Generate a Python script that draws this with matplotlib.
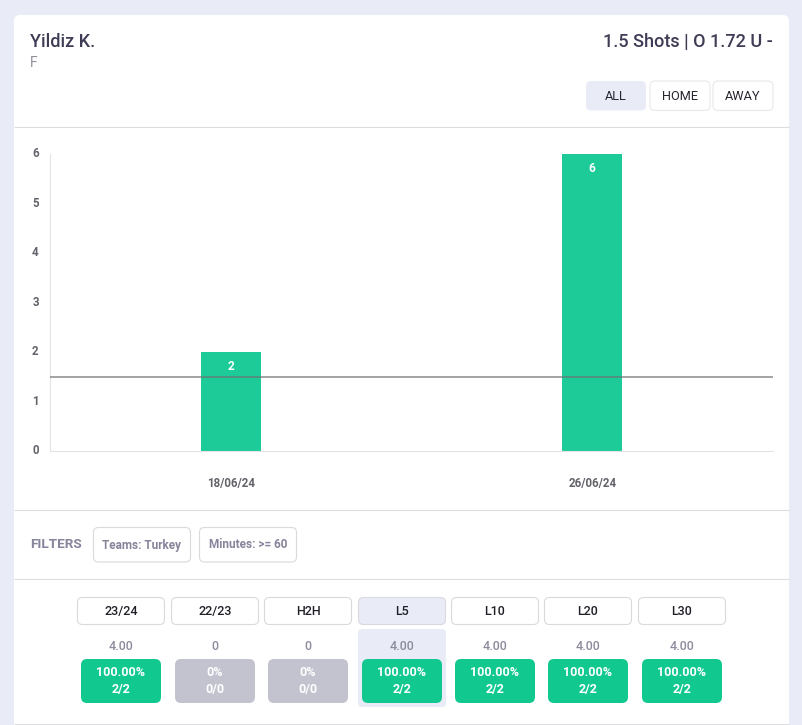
import matplotlib
matplotlib.use("Agg")
import matplotlib.pyplot as plt
from matplotlib.patches import FancyBboxPatch
from matplotlib.transforms import ScaledTranslation

plt.rcParams['font.family'] = ['Roboto', 'DejaVu Sans']

# ---- data ----
dates = ['18/06/24', '26/06/24']
shots = [2, 6]
threshold = 1.5
y_ticks = [0, 1, 2, 3, 4, 5, 6]
player = 'Yildiz K.'
position = 'F'
market = '1.5 Shots | O 1.72 U -'
venue_buttons = ['ALL', 'HOME', 'AWAY']
filters = ['Teams: Turkey', 'Minutes: >= 60']
periods = ['23/24', '22/23', 'H2H', 'L5', 'L10', 'L20', 'L30']
averages = ['4.00', '0', '0', '4.00', '4.00', '4.00', '4.00']
hit_pct = ['100.00%', '0%', '0%', '100.00%', '100.00%', '100.00%', '100.00%']
hit_frac = ['2/2', '0/0', '0/0', '2/2', '2/2', '2/2', '2/2']

W, H = 803, 725
GREEN = '#11c88f'
fig = plt.figure(figsize=(W / 100, H / 100), dpi=100, facecolor='#e9ecf6')

# page chrome in pixel coordinates
ui = fig.add_axes([0, 0, 1, 1])
ui.set_xlim(0, W)
ui.set_ylim(H, 0)
ui.axis('off')


def rbox(x0, y0, x1, y1, fc, ec='none', r=5, lw=0.8, z=2):
    ui.add_patch(FancyBboxPatch((x0 + r, y0 + r), x1 - x0 - 2 * r, y1 - y0 - 2 * r,
                                boxstyle=f'round,pad={r},rounding_size={r}',
                                fc=fc, ec=ec, lw=lw, zorder=z))


rbox(14, 15, 789, 740, '#ffffff', r=6, z=1)
for yy in (126.8, 509.8, 578.8, 723.6):
    ui.plot([14, 789], [yy, yy], color='#dcdce0', lw=0.8, zorder=2, solid_capstyle='butt')

ui.text(30, 41.5, player, fontsize=13, fontweight='medium', color='#3f3d56', va='center', ha='left')
ui.text(30, 62.5, position, fontsize=10, color='#8f8f99', va='center', ha='left')
ui.text(773, 41.5, market, fontsize=13, fontweight='medium', color='#3f3d56', va='center', ha='right')

btn_x = [(586, 646), (650, 710), (713, 773)]
for i, (lab, (a, b)) in enumerate(zip(venue_buttons, btn_x)):
    if i == 0:
        rbox(a, 81, b, 110.5, '#e9ecf6')
    else:
        rbox(a, 81, b, 110.5, '#ffffff', ec='#e8e8ec')
    ui.text((a + b) / 2, 96, lab, fontsize=9.2, color='#26262f', ha='center', va='center')

ui.text(30, 545, 'FILTERS', fontsize=9.7, fontweight='bold', color='#85849b', ha='left', va='center')
filt_x = [(93.5, 190.5), (199.5, 296.5)]
for lab, (a, b) in zip(filters, filt_x):
    rbox(a, 527.5, b, 562, '#ffffff', ec='#d9d9de')
    ui.text((a + b) / 2, 545, lab, fontsize=8.5, fontweight='bold', color='#85849b', ha='center', va='center')

# stat columns
rbox(358, 629, 446, 707, '#e9ecf6', r=4)
head_x = [(77.5, 164.5), (171.5, 258.5), (264.5, 351.5), (358.5, 445.5), (451.5, 538.5), (544.5, 631.5), (638.5, 725.5)]
for i, (a, b) in enumerate(head_x):
    cx = (a + b) / 2
    sel = periods[i] == 'L5'
    rbox(a, 597.5, b, 624.5, '#e9ecf6' if sel else '#ffffff', ec='#d9d9de')
    ui.text(cx, 611.5, periods[i], fontsize=9, fontweight='medium', color='#1f1f28', ha='center', va='center')
    ui.text(cx, 646, averages[i], fontsize=9, fontweight='medium', color='#8d8c9e', ha='center', va='center', zorder=4)
    rbox(a + 3.5, 659, b - 3.5, 703, GREEN if hit_frac[i] != '0/0' else '#c2c3ce', r=6, z=3)
    ui.text(cx, 672, hit_pct[i], fontsize=9, fontweight='bold', color='#ffffff', ha='center', va='center', zorder=4)
    ui.text(cx, 690, hit_frac[i], fontsize=9, fontweight='bold', color='#ffffff', ha='center', va='center', zorder=4)

# chart
L, R, T, B = 50.5, 773, 154, 451
ax = fig.add_axes([L / W, 1 - B / H, (R - L) / W, (B - T) / H])
ax.patch.set_alpha(0)
pos = list(range(len(dates)))
bars = ax.bar(pos, shots, width=0.166, color='#1ccb97', zorder=2)
ax.axhline(threshold, color='#6f7072', alpha=0.75, lw=1.2, zorder=3)
ax.set_xlim(-0.5, 1.5)
ax.set_ylim(0, 6)
ax.set_yticks(y_ticks)
ax.set_xticks(pos, dates)
for s in ('top', 'right'):
    ax.spines[s].set_visible(False)
for s in ('left', 'bottom'):
    ax.spines[s].set_color('#e3e3e6')
    ax.spines[s].set_linewidth(0.8)
ax.tick_params(axis='both', length=0, labelsize=8.3, labelcolor='#62626a')
ax.tick_params(axis='x', pad=19)
ax.tick_params(axis='y', pad=8.5)
shift_up = ScaledTranslation(0, 1.2 / 72, fig.dpi_scale_trans)
for lab in ax.get_yticklabels():
    lab.set_transform(lab.get_transform() + shift_up)
for lab in ax.get_xticklabels() + ax.get_yticklabels():
    lab.set_fontweight('bold')
for p, v in zip(pos, shots):
    ax.annotate(str(v), (p, v), xytext=(-0.5, -14), textcoords='offset pixels', ha='center', va='center',
                fontsize=8.6, fontweight='bold', color='#ffffff', zorder=4)

fig.savefig('out.png', dpi=100, facecolor=fig.get_facecolor())
